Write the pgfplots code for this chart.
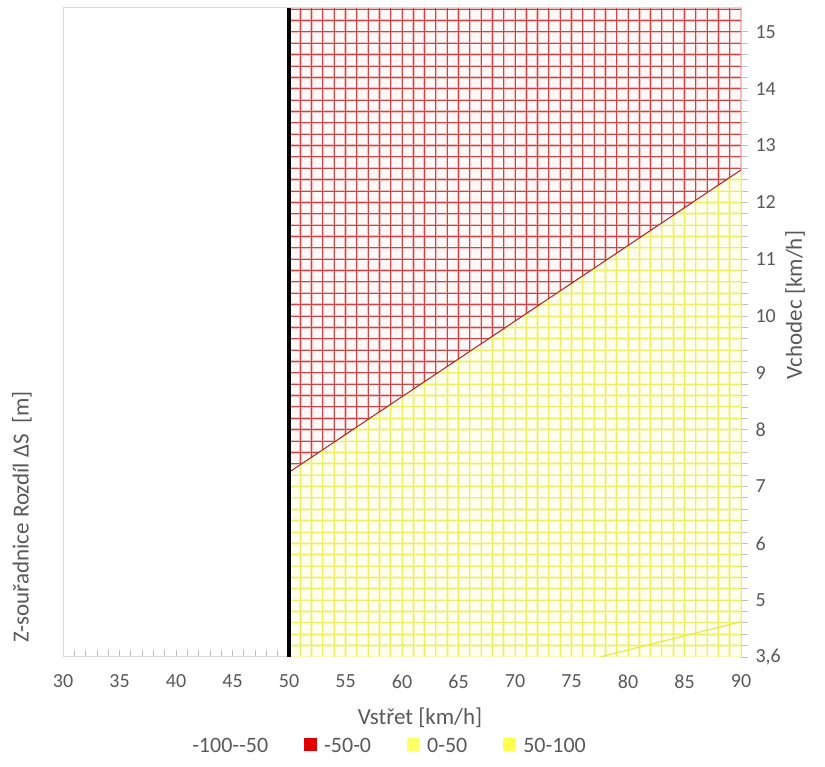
\documentclass[border=0pt]{standalone}
\usepackage{fontspec}
\setmainfont{Carlito}
\usepackage{pgfplots}
\pgfplotsset{compat=1.18}
\definecolor{txt}{HTML}{595959}
\definecolor{frame}{HTML}{D9D9D9}
\definecolor{tickc}{HTML}{BFBFBF}
\definecolor{redln}{HTML}{C84848}
\definecolor{redhalo}{HTML}{F3C0C0}
\definecolor{redfill}{HTML}{FFF8F8}
\definecolor{redbd}{HTML}{B02020}
\definecolor{yelln}{HTML}{EEEE66}
\definecolor{yelhalo}{HTML}{F9F9B8}
\definecolor{yelfill}{HTML}{FFFFF2}
\definecolor{yelbd}{HTML}{EAEA50}
\definecolor{legred}{HTML}{E00000}
\definecolor{legyel}{HTML}{FFFF66}
\definecolor{legyel2}{HTML}{FFFF4D}
\begin{document}
\begin{tikzpicture}
\useasboundingbox (0,0) rectangle (825pt,767pt);
\begin{axis}[
  at={(63pt,110pt)}, anchor=south west,
  scale only axis, width=678pt, height=649pt,
  xmin=30, xmax=90, ymin=4, ymax=15.42,
  axis line style={frame, line width=1pt},
  xtick={30,35,...,90}, minor x tick num=4,
  ytick={4,5,...,15},
  yticklabels={{3,6},5,6,7,8,9,10,11,12,13,14,15},
  minor y tick num=4,
  xtick pos=lower, ytick pos=right,
  yticklabel pos=right,
  x tick style={tickc, line width=0.8pt},
  y tick style={tickc, line width=0.8pt},
  xtick align=inside, ytick align=outside,
  major tick length=7pt, minor tick length=7pt,
  /pgf/number format/assume math mode=true,
  /pgf/number format/use comma,
  tick label style={font=\fontsize{20}{24}\selectfont, text=txt},
  xticklabel style={yshift=-14pt},
  yticklabel style={xshift=4pt},
  legend style={at={(0.4676,-0.137)}, anchor=center, draw=none, fill=none,
    legend columns=4, font=\fontsize{22}{26}\selectfont, text=txt,
    /tikz/every odd column/.append style={column sep=5pt},
    /tikz/every even column/.append style={column sep=34pt},
    inner sep=0pt},
  legend image code/.code={\fill[#1, draw=none] (0pt,-5pt) rectangle (13pt,8pt);},
  clip=true,
]
% background areas (data: boundary of the -50-0 / 0-50 regions)
\addplot[draw=none, fill=yelfill, forget plot] coordinates {(50,4) (90,4) (90,12.57) (50,7.25)} -- cycle;
\addplot[draw=none, fill=redfill, forget plot] coordinates {(50,7.25) (90,12.57) (90,15.42) (50,15.42)} -- cycle;

% red mesh
\begin{scope}
\clip (axis cs:50,7.25) -- (axis cs:90,12.57) -- (axis cs:90,15.42) -- (axis cs:50,15.42) -- cycle;
\pgfplotsinvokeforeach{51,...,90}{\draw[redhalo, line width=2.4pt] (axis cs:#1,4) -- (axis cs:#1,15.42);}
\pgfplotsinvokeforeach{4.2,4.4,...,15.41}{\draw[redhalo, line width=2.4pt] (axis cs:50,#1) -- (axis cs:90,#1);}
\pgfplotsinvokeforeach{51,...,90}{\draw[redln, line width=0.9pt] (axis cs:#1,4) -- (axis cs:#1,15.42);}
\pgfplotsinvokeforeach{4.2,4.4,...,15.41}{\draw[redln, line width=0.9pt] (axis cs:50,#1) -- (axis cs:90,#1);}
\end{scope}
% yellow mesh
\begin{scope}
\clip (axis cs:50,4) -- (axis cs:90,4) -- (axis cs:90,12.57) -- (axis cs:50,7.25) -- cycle;
\pgfplotsinvokeforeach{51,...,90}{\draw[yelhalo, line width=2.6pt] (axis cs:#1,4) -- (axis cs:#1,15.42);}
\pgfplotsinvokeforeach{4.0,4.2,...,15.41}{\draw[yelhalo, line width=2.6pt] (axis cs:50,#1) -- (axis cs:90,#1);}
\pgfplotsinvokeforeach{51,...,90}{\draw[yelln, line width=0.9pt] (axis cs:#1,4) -- (axis cs:#1,15.42);}
\pgfplotsinvokeforeach{4.0,4.2,...,15.41}{\draw[yelln, line width=0.9pt] (axis cs:50,#1) -- (axis cs:90,#1);}
\end{scope}

% contour lines
\addplot[redbd, line width=1pt, forget plot] coordinates {(50,7.25) (90,12.57)};
\addplot[yelbd, line width=1.3pt, forget plot] coordinates {(77.5,4.0) (90,4.62)};
% cliff at x = 50
\addplot[black, line width=4.5pt, forget plot] coordinates {(50,4) (50,15.42)};

\addlegendimage{fill=white}
\addlegendentry{-100-{}-50}
\addlegendimage{fill=legred}
\addlegendentry{-50-0}
\addlegendimage{fill=legyel}
\addlegendentry{0-50}
\addlegendimage{fill=legyel2}
\addlegendentry{50-100}
\end{axis}
\node[text=txt, font=\fontsize{23}{27}\selectfont] at (420pt,49pt) {Vstřet [km/h]};
\node[text=txt, font=\fontsize{23}{27}\selectfont, rotate=90] at (795pt,462pt) {Vchodec [km/h]};
\node[text=txt, font=\fontsize{23}{27}\selectfont, rotate=90] at (22pt,250pt) {Z-souřadnice Rozdíl ΔS\ \ [m]};
\end{tikzpicture}
\end{document}
